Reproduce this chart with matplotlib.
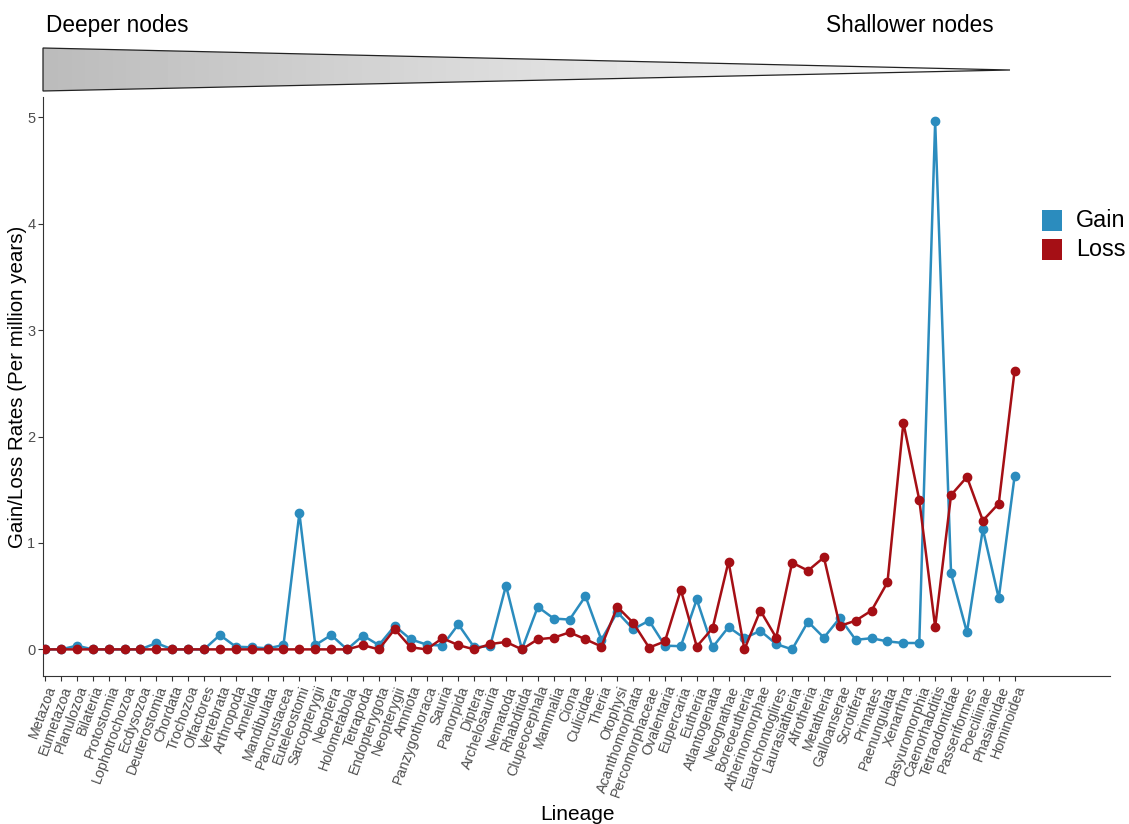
import numpy as np
import matplotlib
matplotlib.use("Agg")
import matplotlib.pyplot as plt
from matplotlib.patches import Polygon, Rectangle

plt.rcParams["font.family"] = ["Liberation Sans", "DejaVu Sans"]

# Lineages ordered from deeper to shallower nodes
lineages = [
    "Metazoa", "Eumetazoa", "Planulozoa", "Bilateria", "Protostomia",
    "Lophotrochozoa", "Ecdysozoa", "Deuterostomia", "Chordata", "Trochozoa",
    "Olfactores", "Vertebrata", "Arthropoda", "Annelida", "Mandibulata",
    "Pancrustacea", "Euteleostomi", "Sarcopterygii", "Neoptera", "Holometabola",
    "Tetrapoda", "Endopterygota", "Neopterygii", "Amniota", "Panzygothoraca",
    "Sauria", "Panorpida", "Diptera", "Archelosauria", "Nematoda",
    "Rhabditida", "Clupeocephala", "Mammalia", "Ciona", "Culicidae",
    "Theria", "Otophysi", "Acanthomorphata", "Percomorphaceae", "Ovalentaria",
    "Eupercaria", "Eutheria", "Atlantogenata", "Neognathae", "Boreoeutheria",
    "Atherinomorphae", "Euarchontoglires", "Laurasiatheria", "Afrotheria", "Metatheria",
    "Galloanserae", "Scrotifera", "Primates", "Paenungulata", "Xenarthra",
    "Dasyuromorphia", "Caenorhabditis", "Tetraodontidae", "Passeriformes", "Poeciliinae",
    "Phasianidae", "Hominoidea",
]

# Gain / loss rates per million years
gain = [
    0, 0, 0.035, 0, 0, 0, 0, 0.06, 0, 0, 0, 0.135,
    0.025, 0.02, 0.01, 0.04, 1.28, 0.04, 0.135, 0, 0.13, 0.04, 0.22, 0.095,
    0.045, 0.035, 0.235, 0.02, 0.03, 0.60, 0, 0.40, 0.29, 0.28, 0.50, 0.09,
    0.35, 0.19, 0.27, 0.035, 0.03, 0.47, 0.02, 0.21, 0.105, 0.175, 0.05, 0,
    0.26, 0.11, 0.295, 0.09, 0.105, 0.075, 0.06, 0.06, 4.96, 0.715, 0.16, 1.13, 0.48, 1.63,
]
loss = [
    0, 0, 0, 0, 0, 0, 0, 0, 0, 0, 0, 0,
    0, 0, 0, 0, 0, 0, 0, 0, 0.04, 0, 0.19, 0.02,
    0, 0.105, 0.04, 0, 0.05, 0.07, 0, 0.095, 0.11, 0.16, 0.095, 0.027,
    0.40, 0.25, 0.017, 0.075, 0.56, 0.027, 0.20, 0.825, 0, 0.365, 0.11, 0.815,
    0.74, 0.865, 0.22, 0.27, 0.365, 0.63, 2.13, 1.405, 0.21, 1.45, 1.62, 1.21, 1.37, 2.62,
]

GAIN_COL = "#2b8cbe"
LOSS_COL = "#a50f15"
W, H = 1129, 824

fig = plt.figure(figsize=(W / 100, H / 100), dpi=100)
ax = fig.add_axes([43 / W, 1 - 676 / H, (1110 - 43) / W, (676 - 97) / H])

x = np.arange(1, len(lineages) + 1)
ax.plot(x, gain, color=GAIN_COL, lw=1.8, marker="o", ms=6, zorder=3)
ax.plot(x, loss, color=LOSS_COL, lw=1.8, marker="o", ms=6, zorder=4)

ax.set_xlim(0.87, 68.0)
ax.set_ylim(-0.25, 5.19)
ax.set_xticks(x)
ax.set_xticklabels(lineages, rotation=70, ha="right", rotation_mode="anchor",
                   fontsize=10.3, color="#4d4d4d")
ax.set_yticks([0, 1, 2, 3, 4, 5])
ax.set_yticklabels(["0", "1", "2", "3", "4", "5"], fontsize=10.5, color="#4d4d4d")
ax.tick_params(axis="both", length=3.5, width=0.8, color="#333333", pad=2)
for side in ["top", "right"]:
    ax.spines[side].set_visible(False)
for side in ["left", "bottom"]:
    ax.spines[side].set_color("#333333")
    ax.spines[side].set_linewidth(0.8)

ax.set_ylabel("Gain/Loss Rates (Per million years)", fontsize=14.8, labelpad=0)
fig.text(577 / W, 1 - 815 / H, "Lineage", fontsize=15, ha="center", va="center")

# Overlay in pixel coordinates for the depth wedge and legend
ov = fig.add_axes([0, 0, 1, 1], zorder=5)
ov.set_xlim(0, W)
ov.set_ylim(H, 0)
ov.axis("off")

tri = Polygon([[43, 48], [43, 91], [1010, 70]], closed=True,
              facecolor="none", edgecolor="#222222", lw=0.9)
ov.add_patch(tri)
grad = np.linspace(0.68, 1.0, 256).reshape(1, -1) ** 0.8
im = ov.imshow(grad, cmap="gray", vmin=0, vmax=1, aspect="auto",
               extent=[43, 1010, 91, 48], interpolation="bicubic")
im.set_clip_path(tri)
ov.set_xlim(0, W)
ov.set_ylim(H, 0)

ov.text(46, 25, "Deeper nodes", fontsize=16.3, ha="left", va="center")
ov.text(994, 25, "Shallower nodes", fontsize=16.3, ha="right", va="center")

for label, col, yc in [("Gain", GAIN_COL, 220), ("Loss", LOSS_COL, 249)]:
    ov.add_patch(Rectangle((1042, yc - 10.5), 20, 21, facecolor=col, edgecolor="none"))
    ov.text(1076, yc, label, fontsize=16.8, ha="left", va="center")

fig.savefig("out.png", dpi=100)
